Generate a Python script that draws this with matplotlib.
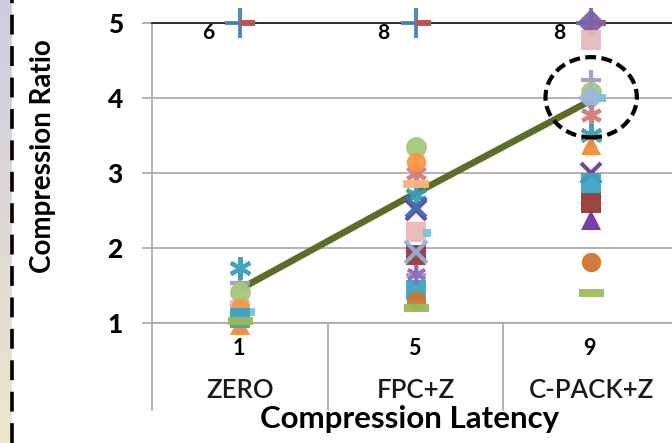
import numpy as np
import matplotlib
matplotlib.use("Agg")
import matplotlib.pyplot as plt
from matplotlib.path import Path
from matplotlib.patches import Ellipse
from matplotlib.lines import Line2D

plt.rcParams['font.family'] = ['Lato', 'DejaVu Sans']

nan = np.nan
categories = ["ZERO", "FPC+Z", "C-PACK+Z"]
latency = ["1", "5", "9"]
avg_ratio = [1.45, 2.73, 3.97]
clipped_labels = ["6", "8", "8"]   # ratios above the axis limit

# one row per benchmark: ZERO, FPC+Z, C-PACK+Z
ratios = [
    [5.0, 5.0, 5.0],
    [5.0, 5.0, 5.0],
    [nan, nan, 5.0],
    [1.17, 2.21, 4.77],
    [1.53, 1.64, 4.24],
    [1.41, 3.35, 4.08],
    [nan, nan, 4.0],
    [1.15, 2.2, 4.0],
    [nan, 3.0, 3.77],
    [1.74, 2.7, 3.5],
    [0.98, nan, 3.37],
    [1.2, 3.15, nan],
    [nan, 2.5, 3.0],
    [1.07, 1.44, 2.87],
    [nan, 1.9, 2.6],
    [nan, nan, 2.37],
    [nan, 1.3, 1.81],
    [1.03, 1.2, 1.4],
    [nan, 2.85, nan],
    [nan, 2.55, nan],
    [nan, 1.95, nan],
    [nan, 1.66, nan],
]

# marker shapes
right_bar = Path([(0, -0.4), (2, -0.4), (2, 0.4), (0, 0.4), (0, -0.4)])
aside_sq = Path([(1.0, -0.55), (2.0, -0.55), (2.0, 0.55), (1.0, 0.55), (1.0, -0.55)])
wide_bar = Path([(-1, -0.3), (1, -0.3), (1, 0.3), (-1, 0.3), (-1, -0.3)])
star6 = (6, 2, 0)

styles = [  # marker, color, size, edge width
    ('+', '#4a7ebb', 21, 2.8),
    (right_bar, '#c0504d', 21, 0),
    ('D', '#7f5fa8', 14, 0),
    ('s', '#e6b9b8', 14.5, 0),
    ('+', '#a897cb', 15, 3),
    ('o', '#a6c87a', 15, 0),
    ('D', '#9db7dd', 13, 0),
    (aside_sq, '#7cc3da', 21, 0),
    (star6, '#d47a78', 15, 3),
    (star6, '#3a9db8', 16, 3),
    ('^', '#f28c3a', 15, 0),
    ('o', '#f79646', 14, 0),
    ('x', '#6a3d9a', 14, 3),
    ('s', '#3ca3c0', 14.5, 0),
    ('s', '#983a36', 14.5, 0),
    ('^', '#7431a3', 15, 0),
    ('o', '#d07634', 14, 0),
    (wide_bar, '#9bbb59', 18, 0),
    (wide_bar, '#fab27a', 19, 0),
    ('x', '#3e6fb0', 14, 3),
    ('x', '#8eb0de', 16, 3),
    (star6, '#8e6bbe', 14, 2.5),
]

W, H = 672, 443
fig = plt.figure(figsize=(W / 100, H / 100), dpi=100)

# slide edge: gradient strip and dashed border
grad = np.linspace(0, 1, 256).reshape(-1, 1)
top_c = np.array([0.81, 0.80, 0.88])
bot_c = np.array([0.93, 0.90, 0.80])
img = top_c + (bot_c - top_c) * grad[:, :, None]
gax = fig.add_axes([0, 0, 12 / W, 1])
gax.imshow(img, aspect='auto', extent=[0, 1, 0, 1])
gax.axis('off')
fig.add_artist(Line2D([11.5 / W, 11.5 / W], [0, 1], color='black', lw=2.6,
                      dashes=(5.5, 3.2)))

x0, x1 = 152, 679
y_top, y_bot = 23, 323
ax = fig.add_axes([x0 / W, (H - y_bot) / H, (x1 - x0) / W, (y_bot - y_top) / H])
ax.set_xlim(0, 3)
ax.set_ylim(1, 5)
xs = np.arange(3) + 0.5

ax.set_yticks([1, 2, 3, 4, 5])
ax.set_yticklabels(['1', '2', '3', '4', '5'], fontsize=19, fontweight='black')
ax.tick_params(axis='y', length=7, width=1.2, color='#a6a6a6', pad=14)
ax.set_xticks([])
ax.yaxis.grid(True, color='#a6a6a6', lw=1.2)
ax.set_axisbelow(True)
ax.spines['right'].set_visible(False)
ax.spines['top'].set_color('#222222')
ax.spines['top'].set_linewidth(1.3)
for s in ['left', 'bottom']:
    ax.spines[s].set_color('#a6a6a6')
    ax.spines[s].set_linewidth(1.2)

# category axis separators
for b in [0, 1, 2]:
    ax.plot([b, b], [0, -0.29], transform=ax.get_xaxis_transform(),
            color='#a6a6a6', lw=1.2, clip_on=False)

ax.plot(xs, avg_ratio, color='#5a6e28', lw=4.8, zorder=2, solid_capstyle='butt')

for row, (m, c, ms, mew) in zip(ratios, styles):
    ax.plot(xs, row, ls='none', marker=m, color=c, markersize=ms,
            markeredgewidth=mew, markeredgecolor=c, clip_on=False, zorder=3,
            alpha=0.95)

for x, lab in zip(xs, clipped_labels):
    ax.annotate(lab, (x, 5), xytext=(-23, -7), textcoords='offset points',
                ha='center', va='center', fontsize=15, fontweight='bold',
                zorder=5)

xt = ax.get_xaxis_transform()
for x, lat, cat in zip(xs, latency, categories):
    ax.annotate(lat, (x, 0), xycoords=xt, xytext=(-1, -18.5),
                textcoords='offset points', ha='center', va='center',
                fontsize=15.5, fontweight='bold')
    ax.annotate(cat, (x, 0), xycoords=xt, xytext=(0, -48.5),
                textcoords='offset points', ha='center', va='center',
                fontsize=18.5, fontweight='semibold', color='#1a1a1a')

ax.annotate('Compression Latency', (1.5, 0), xycoords=xt, xytext=(-4, -69),
            textcoords='offset points', ha='center', va='center',
            fontsize=22.5, fontweight='bold')
fig.text(43 / W, 1 - 156 / H, 'Compression Ratio', rotation=90, ha='center',
         va='center', fontsize=20, fontweight='bold')

ax.add_patch(Ellipse((2.5, 4.01), 0.52, 1.07, fill=False, ec='black', lw=3,
                     ls=(0, (2.6, 1.3)), clip_on=False, zorder=6))

fig.savefig('out.png', dpi=100)
